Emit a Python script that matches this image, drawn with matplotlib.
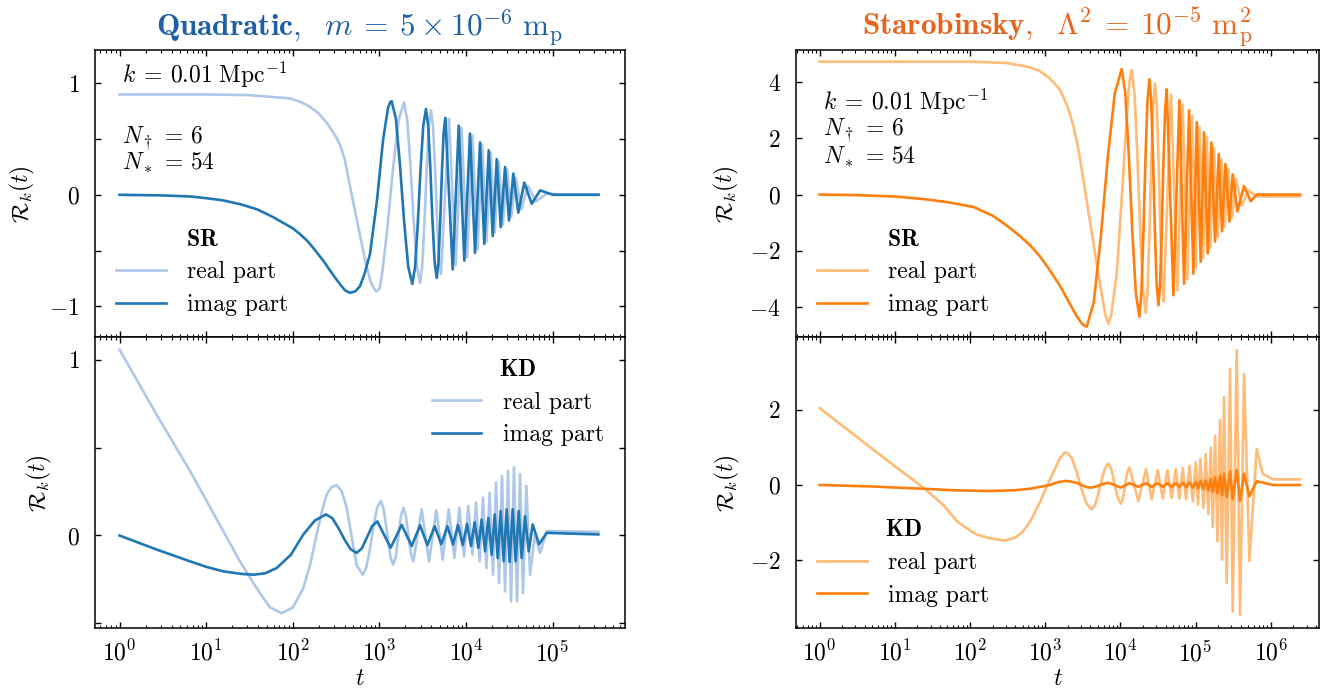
import matplotlib
matplotlib.use('Agg')
import matplotlib.pyplot as plt
from matplotlib.ticker import MultipleLocator, NullLocator, FixedLocator

# ---- Quadratic, slow-roll initial conditions (top left) ----
quad_sr_real_t = [1, 10, 30, 93, 126, 158, 200, 251, 316, 355,
                  398, 447, 501, 562, 631, 708, 794, 891, 933, 1010,
                  1079, 1247, 1442, 1667, 1928, 2099, 2286, 2489, 2710, 2951,
                  3129, 3317, 3517, 3729, 3954, 4169, 4395, 4634, 4887, 5155,
                  6381, 7623, 8896, 10350, 11920, 13620, 15420, 17300, 19330, 21520,
                  23920, 26680, 29830, 33350, 37680, 43630, 52120, 64140, 85700, 120000,
                  340000]
quad_sr_real = [0.9, 0.9, 0.895, 0.865, 0.83, 0.79, 0.73, 0.64, 0.52, 0.44,
                0.32, 0.12, -0.07, -0.26, -0.45, -0.63, -0.78, -0.855, -0.865, -0.84,
                -0.703, -0.279, 0.244, 0.668, 0.83, 0.675, 0.27, -0.23, -0.635, -0.79,
                -0.642, -0.254, 0.224, 0.612, 0.76, 0.62, 0.252, -0.202, -0.57, -0.71,
                0.68, -0.63, 0.60, -0.56, 0.53, -0.49, 0.45, -0.42, 0.38, -0.34,
                0.30, -0.27, 0.23, -0.20, 0.15, -0.13, 0.08, -0.06, 0.01, 0.005,
                0.005]
quad_sr_imag_t = [1, 3, 6.5, 10, 15.7, 25, 38.7, 48, 59.3, 75,
                  100, 120, 146, 170, 200, 230, 270, 310, 350, 400,
                  459, 530, 598, 680, 781, 940, 1104, 1260, 1330, 1390,
                  1551, 1730, 1931, 2154, 2405, 2586, 2781, 2991, 3217, 3459,
                  3663, 3878, 4106, 4347, 4603, 4817, 5042, 5277, 5524, 5781,
                  7041, 8260, 9590, 11150, 12740, 14560, 16300, 18340, 20390, 22700,
                  25230, 28300, 31480, 35260, 40270, 47230, 57540, 71770, 101400, 340000]
quad_sr_imag = [0, -0.005, -0.015, -0.03, -0.05, -0.085, -0.13, -0.165, -0.20, -0.245,
                -0.30, -0.35, -0.41, -0.47, -0.54, -0.60, -0.68, -0.745, -0.80, -0.855,
                -0.88, -0.865, -0.82, -0.70, -0.53, -0.05, 0.49, 0.78, 0.83, 0.84,
                0.683, 0.273, -0.233, -0.643, -0.80, -0.65, -0.258, 0.228, 0.62, 0.77,
                0.625, 0.247, -0.222, -0.60, -0.745, -0.608, -0.249, 0.194, 0.553, 0.69,
                -0.67, 0.62, -0.59, 0.55, -0.52, 0.47, -0.44, 0.40, -0.37, 0.32,
                -0.29, 0.25, -0.23, 0.19, -0.16, 0.11, -0.08, 0.04, 0.0, 0.0]

# ---- Quadratic, kinetic-dominance initial conditions (bottom left) ----
quad_kd_real_t = [1, 2.69, 6.52, 24.6, 35, 45.8, 55, 74.6, 100, 132.7,
                  160, 189, 215, 247, 280, 322, 370, 420, 488, 548,
                  643, 707, 779, 857, 942, 1037, 1109, 1186, 1270, 1358,
                  1452, 1552, 1660, 1774, 1895, 2027, 2165, 2312, 2472, 3085,
                  3750, 4557, 5395, 6330, 7350, 8400, 9510, 10670, 11870, 13090,
                  14420, 15750, 17220, 18800, 20560, 22280, 24120, 26100, 28300, 30650,
                  33180, 35920, 38920, 42150, 45640, 49880, 54990, 62830, 71770, 85660,
                  338300]
quad_kd_real = [1.057, 0.686, 0.367, -0.147, -0.27, -0.356, -0.41, -0.442, -0.41, -0.299,
                -0.16, 0.006, 0.13, 0.234, 0.275, 0.286, 0.25, 0.158, -0.03, -0.17,
                -0.223, -0.183, -0.078, 0.051, 0.156, 0.196, 0.161, 0.071, -0.041, -0.131,
                -0.166, -0.119, -0.004, 0.111, 0.158, 0.113, 0.005, -0.102, -0.147, 0.149,
                -0.147, 0.143, -0.137, 0.149, -0.128, 0.158, -0.118, 0.168, -0.109, 0.187,
                -0.147, 0.215, -0.185, 0.244, -0.223, 0.301, -0.270, 0.339, -0.318, 0.368,
                -0.375, 0.387, -0.375, 0.349, -0.328, 0.282, -0.223, 0.006, -0.099, 0.025,
                0.021]
quad_kd_imag_t = [1, 2.69, 6.52, 10, 15.8, 25, 35.1, 48, 65.3, 95,
                  132.7, 180, 242.5, 286, 336, 396, 466, 548, 629, 721,
                  827, 949, 1352, 1813, 2365, 2951, 3587, 4357, 5202, 6105,
                  7100, 8110, 9180, 10300, 11460, 12620, 13920, 15200, 16630, 18150,
                  19850, 21500, 23290, 25190, 27300, 29580, 32000, 34670, 37560, 40680,
                  44060, 48120, 53080, 59050, 69840, 85660, 338300]
quad_kd_imag = [0, -0.08, -0.147, -0.178, -0.204, -0.218, -0.223, -0.215, -0.185, -0.11,
                0.006, 0.085, 0.12, 0.099, 0.044, -0.023, -0.078, -0.099, -0.073, -0.01,
                0.054, 0.08, -0.07, 0.06, -0.06, 0.058, -0.055, 0.053, -0.05, 0.053,
                -0.05, 0.06, -0.055, 0.065, -0.06, 0.075, -0.07, 0.09, -0.09, 0.10,
                -0.11, 0.12, -0.128, 0.139, -0.147, 0.149, -0.15, 0.149, -0.147, 0.139,
                -0.128, 0.11, -0.09, 0.063, -0.05, 0.015, 0.006]

# ---- Starobinsky, slow-roll initial conditions (top right) ----
star_sr_real_t = [1, 10, 100, 300, 630, 855, 1161, 1578, 2000, 2372,
                  2800, 3221, 3750, 4373, 5000, 5650, 6300, 6921, 7600, 8950,
                  10960, 12780, 13500, 14160, 15420, 16790, 18320, 19950, 21730, 23010,
                  24360, 25790, 27310, 28920, 30500, 32170, 33940, 35800, 37740, 47210,
                  57320, 67480, 77860, 89810, 100500, 112500, 125900, 140800, 157500, 176300,
                  197100, 220500, 244200, 273400, 305800, 345700, 411000, 504500, 650600, 2450000]
star_sr_real = [4.72, 4.72, 4.72, 4.68, 4.52, 4.38, 4.12, 3.72, 3.1, 2.45,
                1.55, 0.54, -0.6, -1.7, -2.7, -3.52, -4.25, -4.6, -4.25, -2.81,
                0.78, 3.64, 4.2, 4.42, 3.60, 1.44, -1.22, -3.38, -4.2, -3.42,
                -1.38, 1.13, 3.17, 3.95, 3.21, 1.27, -1.12, -3.06, -3.8, 3.55,
                -3.4, 3.2, -3.0, 2.8, -2.6, 2.4, -2.25, 2.05, -1.9, 1.65,
                -1.5, 1.25, -1.15, 0.9, -0.8, 0.55, -0.4, 0.15, -0.07, -0.07]
star_sr_imag_t = [1, 3, 10, 24, 50, 111, 200, 308, 450, 630,
                  855, 1161, 1578, 2000, 2600, 3100, 3570, 4426, 5483, 6790,
                  8414, 10430, 11610, 12940, 14420, 16070, 17900, 19040, 20240, 21520,
                  22880, 24320, 25700, 27160, 28710, 30340, 32060, 33740, 35510, 37370,
                  39330, 41400, 50720, 60970, 70300, 81960, 93570, 103700, 117200, 129800,
                  145100, 162400, 181700, 203200, 225000, 249400, 281800, 312200, 359800, 441400,
                  541400, 650600, 2450000]
star_sr_imag = [0, -0.02, -0.07, -0.16, -0.27, -0.44, -0.75, -1.1, -1.45, -1.8,
                -2.2, -2.7, -3.25, -3.75, -4.3, -4.6, -4.7, -3.83, -1.535, 1.295,
                3.59, 4.46, 3.62, 1.42, -1.30, -3.50, -4.34, -3.53, -1.42, 1.18,
                3.29, 4.10, 3.33, 1.32, -1.16, -3.17, -3.94, -3.21, -1.29, 1.09,
                3.01, 3.74, -3.58, 3.35, -3.17, 2.99, -2.81, 2.57, -2.39, 2.21,
                -2.09, 1.85, -1.67, 1.43, -1.31, 1.08, -0.96, 0.72, -0.6, 0.30,
                -0.24, 0.0, 0.0]

# ---- Starobinsky, kinetic-dominance initial conditions (bottom right) ----
star_kd_real_t = [1, 10, 24, 45, 66.7, 90, 123, 185, 293, 400,
                  500, 630, 855, 1161, 1578, 1800, 1936, 2257, 2629, 3064,
                  3569, 4160, 4608, 5104, 5653, 6261, 6930, 7621, 8375, 9204,
                  10110, 10810, 11550, 12330, 13180, 17370, 21970, 26130, 31400, 36610,
                  42200, 48190, 54490, 60970, 67480, 74760, 82820, 91720, 100500, 107900,
                  115900, 127100, 136500, 148200, 159200, 169200, 181600, 195100, 211700, 225100,
                  239200, 259600, 287600, 312000, 352600, 390600, 441500, 520000, 650500, 720000,
                  782000, 1080000, 2450000]
star_kd_real = [2.05, 0.5, -0.07, -0.55, -0.96, -1.15, -1.32, -1.42, -1.48, -1.40,
                -1.25, -0.98, -0.45, 0.15, 0.72, 0.85, 0.87, 0.725, 0.345, -0.125,
                -0.505, -0.65, -0.533, -0.228, 0.148, 0.453, 0.57, 0.413, 0.035, -0.343,
                -0.5, -0.358, -0.015, 0.328, 0.47, -0.43, 0.42, -0.38, 0.39, -0.36,
                0.39, -0.34, 0.42, -0.36, 0.45, -0.38, 0.51, -0.43, 0.6, -0.52,
                0.69, -0.61, 0.82, -0.78, 1.0, -1.12, 1.31, -1.5, 1.73, -1.99,
                2.34, -2.61, 3.1, -3.37, 3.59, -3.46, 2.96, -2.03, 0.96, 0.6,
                0.3, 0.15, 0.15]
star_kd_imag_t = [1, 5, 24, 60, 185, 400, 630, 900, 1161, 1500,
                  1936, 2600, 3100, 3600, 4160, 5100, 5650, 6930, 10110, 13180,
                  17370, 21970, 26130, 31400, 36610, 42200, 48190, 54490, 60970, 67480,
                  74760, 82820, 91720, 100500, 107900, 115900, 127100, 136500, 148200, 159200,
                  169200, 181600, 195100, 211700, 225100, 239200, 259600, 287600, 312000, 352600,
                  390600, 441500, 520000, 650500, 1080000, 2450000]
star_kd_imag = [0, -0.04, -0.1, -0.14, -0.16, -0.14, -0.1, -0.04, 0.0, 0.08,
                0.11, 0.06, -0.01, -0.06, -0.07, -0.02, 0.02, 0.06, -0.07, 0.05,
                -0.05, 0.05, -0.05, 0.05, -0.05, 0.05, -0.05, 0.05, -0.05, 0.06,
                -0.06, 0.07, -0.07, 0.08, -0.09, 0.1, -0.11, 0.12, -0.14, 0.16,
                -0.18, 0.2, -0.22, 0.25, -0.27, 0.3, -0.32, 0.36, -0.38, 0.4,
                -0.42, 0.3, -0.3, 0.1, 0.0, 0.0]

quad_decades = [1e0, 1e1, 1e2, 1e3, 1e4, 1e5]
star_decades = [1e0, 1e1, 1e2, 1e3, 1e4, 1e5, 1e6]

plt.rcParams.update({
    'font.family': 'cmr10',
    'mathtext.fontset': 'cm',
    'axes.unicode_minus': False,
    'axes.formatter.use_mathtext': True,
    'font.size': 17,
    'axes.linewidth': 1.1,
    'xtick.direction': 'in',
    'ytick.direction': 'in',
    'xtick.top': True,
    'ytick.right': True,
    'xtick.major.size': 4.5,
    'xtick.minor.size': 2.2,
    'ytick.major.size': 4.5,
    'ytick.minor.size': 4.5,
    'xtick.major.width': 1.0,
    'ytick.major.width': 1.0,
    'xtick.minor.width': 0.8,
    'ytick.minor.width': 1.0,
    'xtick.major.pad': 9,
    'ytick.major.pad': 11,
    'legend.frameon': False,
    'legend.handlelength': 2.1,
    'legend.handletextpad': 0.9,
    'legend.labelspacing': 0.45,
})

fig = plt.figure(figsize=(13.25, 6.93), dpi=100)


def panel(ax, t_re, re, t_im, im, light, dark, tag, loc, ypad):
    ax.plot(t_re, re, color=light, lw=1.9, label='real part')
    ax.plot(t_im, im, color=dark, lw=1.9, label='imag part')
    ax.set_xscale('log')
    ax.set_ylabel(r'$\mathcal{R}_k(t)$', labelpad=ypad)
    ax.legend(title=r'$\mathbf{' + tag + '}$', loc=loc)


# left column: Quadratic
axq1 = fig.add_axes([0.0717, 0.513, 0.400, 0.415])
axq2 = fig.add_axes([0.0717, 0.0938, 0.400, 0.4192], sharex=axq1)
panel(axq1, quad_sr_real_t, quad_sr_real, quad_sr_imag_t, quad_sr_imag,
      '#aec7e8', '#1f77b4', 'SR', 'lower left', 9)
panel(axq2, quad_kd_real_t, quad_kd_real, quad_kd_imag_t, quad_kd_imag,
      '#aec7e8', '#1f77b4', 'KD', 'upper right', 9)
axq1.xaxis.set_major_locator(FixedLocator(quad_decades))
axq1.set_xlim(10 ** -0.283, 10 ** 5.837)
axq1.set_ylim(-1.28, 1.30)
axq2.set_ylim(-0.526, 1.126)
for ax in (axq1, axq2):
    ax.yaxis.set_major_locator(MultipleLocator(1))
    ax.yaxis.set_minor_locator(MultipleLocator(0.5))
axq1.tick_params(labelbottom=False)
axq2.set_xlabel(r'$t$', labelpad=1)
axq1.set_title(r'$\mathbf{Quadratic},\ \ m \:=\: 5\times10^{-6}\ \mathrm{m_p}$',
               color='#1f5fa6', fontsize=22.5, pad=10)
axq1.text(0.051, 0.913, r'$k \:=\: 0.01\ \mathrm{Mpc}^{-1}$', transform=axq1.transAxes, va='center')
axq1.text(0.051, 0.693, r'$N_\dagger \,=\, 6$', transform=axq1.transAxes, va='center')
axq1.text(0.051, 0.606, r'$N_* \,=\, 54$', transform=axq1.transAxes, va='center')

# right column: Starobinsky
axs1 = fig.add_axes([0.6008, 0.513, 0.3947, 0.415])
axs2 = fig.add_axes([0.6008, 0.0938, 0.3947, 0.4192], sharex=axs1)
panel(axs1, star_sr_real_t, star_sr_real, star_sr_imag_t, star_sr_imag,
      '#ffbb78', '#ff7f0e', 'SR', 'lower left', 6)
panel(axs2, star_kd_real_t, star_kd_real, star_kd_imag_t, star_kd_imag,
      '#ffbb78', '#ff7f0e', 'KD', 'lower left', 6)
axs1.xaxis.set_major_locator(FixedLocator(star_decades))
axs1.set_xlim(10 ** -0.3125, 10 ** 6.642)
axs1.set_ylim(-5.08, 5.14)
axs2.set_ylim(-3.81, 3.93)
for ax in (axs1, axs2):
    ax.yaxis.set_major_locator(MultipleLocator(2))
    ax.yaxis.set_minor_locator(NullLocator())
axs1.tick_params(labelbottom=False)
axs2.set_xlabel(r'$t$', labelpad=1)
axs1.set_title(r'$\mathbf{Starobinsky},\ \ \Lambda^2 \:=\: 10^{-5}\ \mathrm{m_p^2}$',
               color='#e8641e', fontsize=22.5, pad=10)
axs1.text(0.052, 0.82, r'$k \:=\: 0.01\ \mathrm{Mpc}^{-1}$', transform=axs1.transAxes, va='center')
axs1.text(0.052, 0.72, r'$N_\dagger \,=\, 6$', transform=axs1.transAxes, va='center')
axs1.text(0.052, 0.628, r'$N_* \,=\, 54$', transform=axs1.transAxes, va='center')

fig.savefig('out.png', dpi=100)
